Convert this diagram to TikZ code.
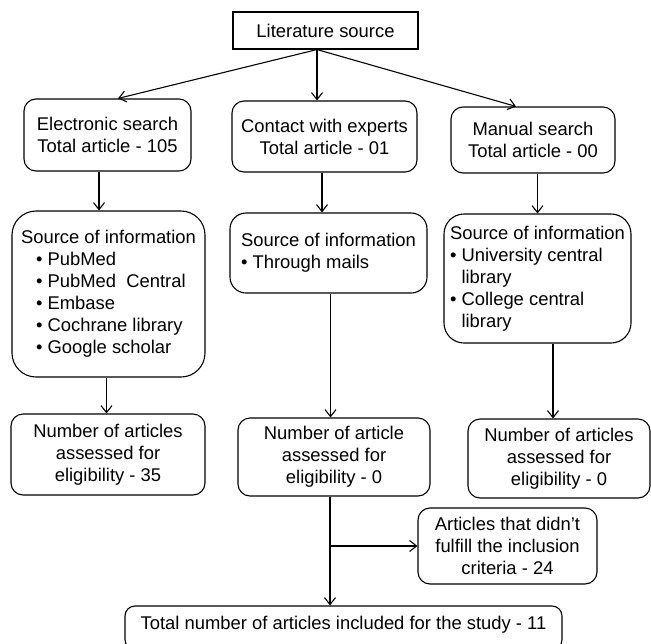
\documentclass[tikz,border=0pt]{standalone}
\usepackage{fontspec}
\setmainfont{Liberation Sans}
\usetikzlibrary{arrows.meta}

\tikzset{
  box/.style={draw, line width=1.1pt, rounded corners=12pt, inner sep=0pt, align=center},
  infobox/.style={box, rounded corners=20pt, align=left},
  arr/.style={line width=1.1pt, -{Straight Barb[length=7pt,width=11pt]}}
}

\begin{document}
\begin{tikzpicture}[x=1pt, y=-1pt, font=\fontsize{18.4pt}{22pt}\selectfont]
        \clip (0,0) rectangle (651,643);
        \node[box, rounded corners=0pt, minimum width=185pt, minimum height=37pt] (lit) at (325.5,30.5) {Literature source};
        \node[box, minimum width=167pt, minimum height=72pt] (elec) at (107.5,135) {Electronic search\\Total article - 105};
        \node[box, minimum width=185pt, minimum height=71pt] (ctc) at (324.5,136.5) {Contact with experts\\Total article - 01};
        \node[box, minimum width=164pt, minimum height=66pt] (man) at (533,140) {Manual search\\Total article - 00};
        \node[infobox, rounded corners=24pt, minimum width=193pt, minimum height=166pt] (srcL) at (108.5,294) {Source of information\\\hspace*{15pt}• PubMed\\\hspace*{15pt}• PubMed~~Central\\\hspace*{15pt}• Embase\\\hspace*{15pt}• Cochrane library\\\hspace*{15pt}• Google scholar};
        \node[infobox, rounded corners=16pt, minimum width=197pt, minimum height=80pt] (srcM) at (328.5,253) {Source of information\\• Through mails};
        \node[infobox, minimum width=187pt, minimum height=129pt] (srcR) at (537.5,278.5) {Source of information\\• University central\\\hspace*{11.5pt}library\\• College central\\\hspace*{11.5pt}library};
        \node[box, minimum width=194pt, minimum height=81pt] (numL) at (108,454.5) {Number of articles\\assessed for\\eligibility - 35};
        \node[box, minimum width=192pt, minimum height=78pt] (numM) at (334,457) {Number of article\\assessed for\\eligibility - 0};
        \node[box, minimum width=182pt, minimum height=79pt] (numR) at (559,458.5) {Number of articles\\assessed for\\eligibility - 0};
        \node[box, minimum width=179pt, minimum height=76pt] (arts) at (507.5,546) {Articles that didn’t\\fulfill the inclusion\\criteria - 24};
        \node[box, rounded corners=10pt, minimum width=437pt, inner ysep=5pt, text height=18.6pt, text depth=15pt, anchor=base] (total) at (343.5,629.6) {Total number of articles included for the study - 11};
        \coordinate (split) at ([xshift=-8.5pt]lit.south);
        \draw[arr] (split) -- ([xshift=10.5pt]elec.north);
        \draw[arr] (split) -- (split |- ctc.north);
        \draw[arr] (split) -- ([xshift=-17pt]man.north);
        \draw[arr] ([xshift=-8.5pt]elec.south) -- ([xshift=-8.5pt]elec.south |- srcL.north);
        \draw[arr] ([xshift=-2.5pt]ctc.south) -- ([xshift=-2.5pt]ctc.south |- srcM.north);
        \draw[arr] (srcR.north |- man.south) -- (srcR.north);
        \draw[arr] ([xshift=-2pt]srcL.south) -- ([xshift=-2pt]srcL.south |- numL.north);
        \draw[arr] ([xshift=2pt]srcM.south) -- ([xshift=2pt]srcM.south |- numM.north);
        \draw[arr] ([xshift=15.5pt]srcR.south) -- ([xshift=15.5pt]srcR.south |- numR.north);
        \coordinate (junc) at ([xshift=-4pt]numM.south |- arts.west);
        \draw[arr] ([xshift=-4pt]numM.south) -- ([xshift=-4pt]numM.south |- total.north);
        \draw[arr] (junc) -- (arts.west);
    \end{tikzpicture}
\end{document}
